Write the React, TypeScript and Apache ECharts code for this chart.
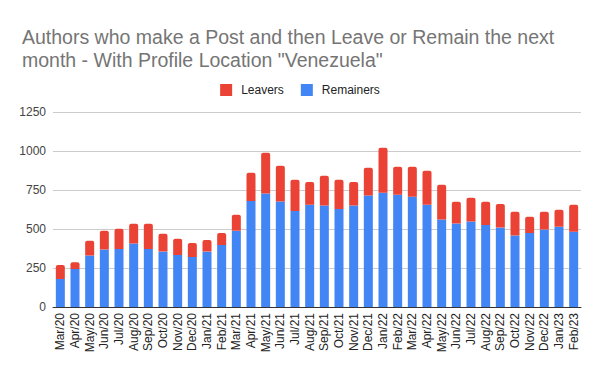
import React, { useEffect, useRef } from "react";
import * as echarts from "echarts";

const categories = ["Mar/20","Apr/20","May/20","Jun/20","Jul/20","Aug/20","Sep/20","Oct/20","Nov/20","Dec/20","Jan/21","Feb/21","Mar/21","Apr/21","May/21","Jun/21","Jul/21","Aug/21","Sep/21","Oct/21","Nov/21","Dec/21","Jan/22","Feb/22","Mar/22","Apr/22","May/22","Jun/22","Jul/22","Aug/22","Sep/22","Oct/22","Nov/22","Dec/22","Jan/23","Feb/23"];
const remainers = [180,244,330,368,372,407,372,355,334,321,355,398,488,680,727,676,616,655,650,629,650,715,732,719,706,655,561,535,548,526,509,458,475,496,514,483];
const leavers = [90,43,94,120,129,126,161,114,103,90,75,77,103,180,262,229,199,147,191,186,152,177,289,180,193,218,222,139,152,148,152,152,103,114,109,172];
const yTicks = [0, 250, 500, 750, 1000, 1250];

const FONT = "Liberation Sans, Arial, sans-serif";

export default function App() {
  const ref = useRef<HTMLDivElement>(null);
  useEffect(() => {
    const chart = echarts.init(ref.current!, null, { renderer: "svg" });
    chart.setOption({
      animation: false,
      textStyle: { fontFamily: FONT },
      title: {
        text: 'Authors who make a Post and then Leave or Remain the next\nmonth - With Profile Location "Venezuela"',
        left: 17,
        top: 20,
        textStyle: { fontSize: 19.5, fontWeight: "normal", color: "#757575", lineHeight: 23.5, fontFamily: FONT },
      },
      legend: {
        top: 79,
        left: "center",
        itemWidth: 12,
        itemHeight: 12,
        itemGap: 17,
        icon: "rect",
        textStyle: { fontSize: 12, color: "#222", fontFamily: FONT, padding: [0, 0, 0, 4] },
        data: ["Leavers", "Remainers"],
      },
      grid: { left: 53, right: 19, top: 112, bottom: 64 },
      xAxis: {
        type: "category",
        data: categories,
        axisTick: { show: false },
        axisLine: { lineStyle: { color: "#333" } },
        axisLabel: { rotate: 90, fontSize: 12, color: "#222", interval: 0, margin: 6, fontFamily: FONT },
      },
      yAxis: {
        type: "value",
        min: 0,
        max: yTicks[yTicks.length - 1],
        interval: 250,
        axisLabel: { fontSize: 12, color: "#444", margin: 7, fontFamily: FONT, formatter: (v: number) => String(v) },
        splitLine: { lineStyle: { color: "#ccc" } },
      },
      series: [
        {
          name: "Remainers",
          type: "bar",
          stack: "total",
          data: remainers,
          barWidth: 9,
          itemStyle: { color: "#4285f4" },
        },
        {
          name: "Leavers",
          type: "bar",
          stack: "total",
          data: leavers,
          barWidth: 9,
          itemStyle: { color: "#ea4335", borderRadius: [2, 2, 0, 0] },
        },
      ],
    });
    return () => chart.dispose();
  }, []);
  return <div ref={ref} style={{ width: 600, height: 371, position: "absolute", left: 0, top: 0 }} />;
}
